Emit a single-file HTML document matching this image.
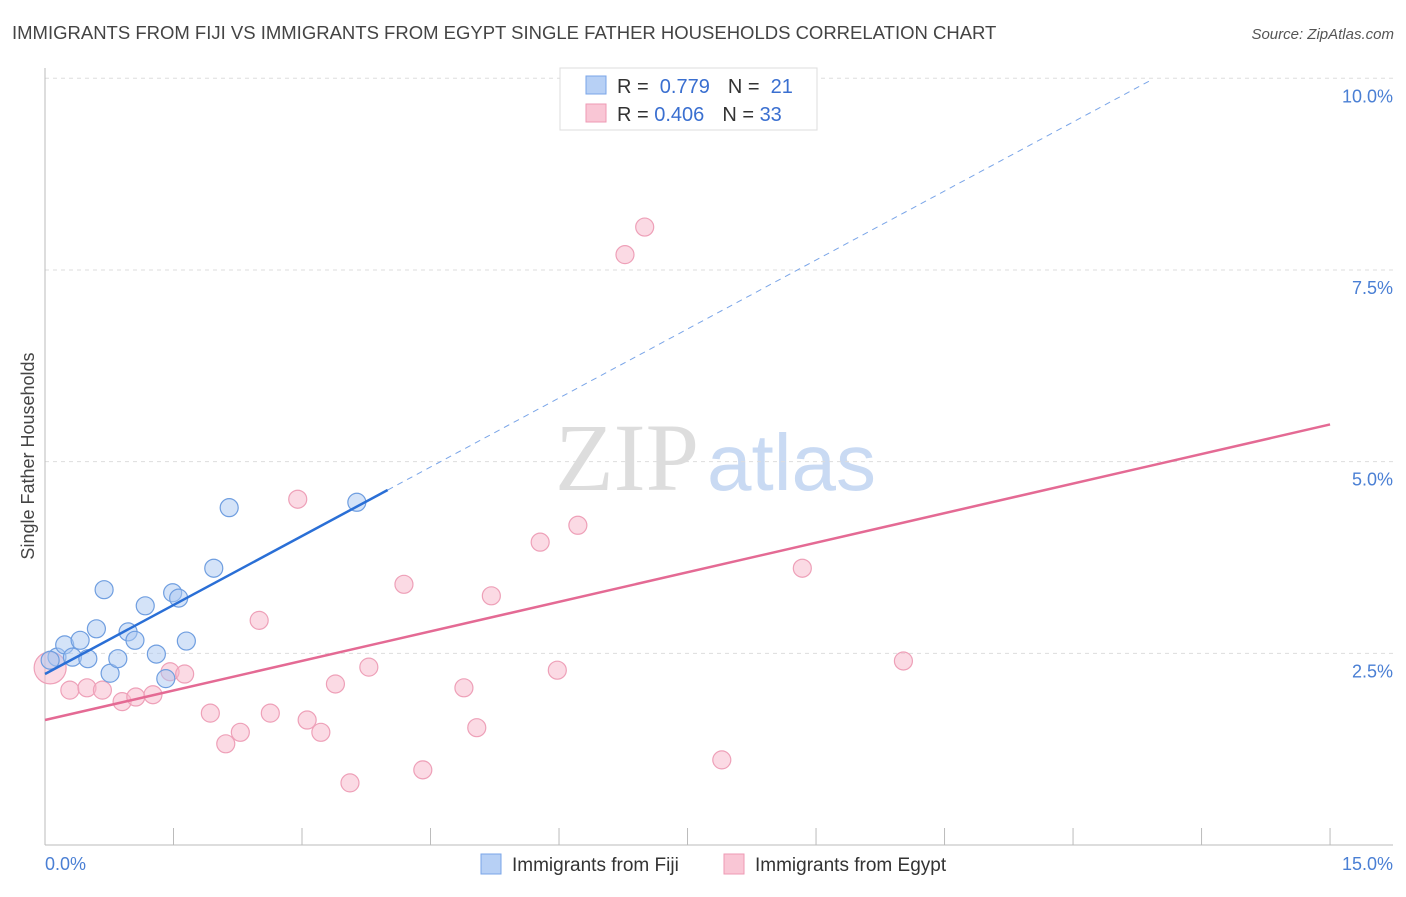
<!DOCTYPE html>
<html><head><meta charset="utf-8"><style>
body{margin:0;background:#fff;font-family:"Liberation Sans",sans-serif;}
</style></head><body>
<svg id="chart" width="1406" height="892" xmlns="http://www.w3.org/2000/svg" style="font-family:'Liberation Sans',sans-serif">
<text x="12" y="39" font-size="18.5" fill="#444">IMMIGRANTS FROM FIJI VS IMMIGRANTS FROM EGYPT SINGLE FATHER HOUSEHOLDS CORRELATION CHART</text>
<text x="1394" y="39" font-size="15" fill="#555" text-anchor="end" font-style="italic">Source: ZipAtlas.com</text>
<text x="555" y="490" font-size="96" fill="#ddd" font-family="Liberation Serif,serif">ZIP<tspan dx="8" fill="#c9daf3" font-family="Liberation Sans,sans-serif" font-size="80">atlas</tspan></text>
<g id="grid"></g><g id="marks"></g>
<text transform="translate(34,456) rotate(-90)" font-size="18" fill="#444" text-anchor="middle">Single Father Households</text>
<g>
<rect x="560" y="68" width="257" height="62" fill="#fff" stroke="#ddd"/>
<rect x="586" y="76" width="20" height="18" fill="#b7d0f5" stroke="#7aa5e8"/>
<rect x="586" y="104" width="20" height="18" fill="#f9c6d5" stroke="#ee9ab4"/>
<text x="617" y="93" font-size="20" fill="#333">R = <tspan fill="#3a6fd0">&#160;0.779</tspan><tspan dx="18">N = </tspan><tspan fill="#3a6fd0">&#160;21</tspan></text>
<text x="617" y="121" font-size="20" fill="#333">R = <tspan fill="#3a6fd0">0.406</tspan><tspan dx="18">N = </tspan><tspan fill="#3a6fd0">33</tspan></text>
</g>
<g>
<rect x="481" y="854" width="20" height="20" fill="#b7d0f5" stroke="#7aa5e8"/>
<text x="512" y="871" font-size="19" fill="#333">Immigrants from Fiji</text>
<rect x="724" y="854" width="20" height="20" fill="#f9c6d5" stroke="#ee9ab4"/>
<text x="755" y="871" font-size="19" fill="#333">Immigrants from Egypt</text>
</g>
</svg>
<script>
const yTicks=[2.5,5.0,7.5,10.0];
const yTickLabels=["2.5%","5.0%","7.5%","10.0%"];
const xTickLabels=["0.0%","15.0%"];
const fijiX=[0.14,0.23,0.32,0.41,0.50,0.60,0.69,0.76,0.85,0.97,1.05,1.17,1.30,1.41,1.49,1.56,1.65,1.97,2.15,3.64,0.06];
const fijiY=[2.45,2.61,2.45,2.67,2.43,2.82,3.33,2.24,2.43,2.78,2.67,3.12,2.49,2.17,3.29,3.22,2.66,3.61,4.40,4.47,2.41];
const egyptX=[0.06,0.29,0.49,0.67,0.90,1.06,1.26,1.46,1.63,1.93,2.11,2.28,2.63,2.50,2.95,3.06,3.22,3.39,3.56,3.78,4.19,4.41,4.89,5.04,5.21,5.78,5.98,6.22,6.77,7.00,7.90,8.84,10.02];
const egyptY=[2.31,2.02,2.05,2.02,1.87,1.93,1.96,2.26,2.23,1.72,1.32,1.47,1.72,2.93,4.51,1.63,1.47,2.10,0.81,2.32,3.40,0.98,2.05,1.53,3.25,3.95,2.28,4.17,7.70,8.06,1.11,3.61,2.40];
const fijiLine=[2.23,0.6];
const egyptLine=[1.63,0.257];
const X=v=>45+v*85.67, Y=v=>845-v*76.67;
const NS="http://www.w3.org/2000/svg";
function mk(p,t,a){const e=document.createElementNS(NS,t);for(const k in a)e.setAttribute(k,a[k]);p.appendChild(e);return e;}
const g=document.getElementById('grid'), m=document.getElementById('marks');
yTicks.forEach((t,i)=>{
 const l=mk(g,'line',{x1:45,x2:1393,y1:Y(t),y2:Y(t),stroke:'#ddd','stroke-dasharray':'4,4'});
 
 
 const tx=mk(g,'text',{x:1393,y:Y(t)+24,'font-size':18,fill:'#4a7fd4','text-anchor':'end'});tx.textContent=yTickLabels[i];
 
 
});
mk(g,'line',{x1:45,x2:45,y1:68,y2:845,stroke:'#bbb'});
mk(g,'line',{x1:45,x2:1393,y1:845,y2:845,stroke:'#bbb'});
for(let i=0;i<=10;i++){const x=X(i*1.5);const tk=mk(g,'line',{x1:x,x2:x,y1:828,y2:845,stroke:'#bbb'});
 
 }
[[0,'start',45],[1,'end',1393]].forEach(([i,a,x])=>{const t=mk(g,'text',{x:x,y:870,'font-size':18,fill:'#4a7fd4','text-anchor':a});t.textContent=xTickLabels[i];
 
 });
egyptX.forEach((v,i)=>{const c=mk(m,'circle',{cx:X(v),cy:Y(egyptY[i]),r:i==0?16:9,fill:'rgba(247,182,202,0.5)',stroke:'#eea0b8','stroke-width':1.2});
 
 });
fijiX.forEach((v,i)=>{const c=mk(m,'circle',{cx:X(v),cy:Y(fijiY[i]),r:9,fill:'rgba(170,200,242,0.5)',stroke:'#6f9ee0','stroke-width':1.2});
 
 });
const fl=mk(m,'line',{x1:X(0),y1:Y(fijiLine[0]),x2:X(4),y2:Y(fijiLine[0]+4*fijiLine[1]),stroke:'#2a6fd6','stroke-width':2.5});


const xe=(9.98-fijiLine[0])/fijiLine[1];
const fd=mk(m,'line',{x1:X(4),y1:Y(fijiLine[0]+4*fijiLine[1]),x2:X(xe),y2:Y(9.98),stroke:'#7aa5e8','stroke-width':1,'stroke-dasharray':'6,5'});


const el=mk(m,'line',{x1:X(0),y1:Y(egyptLine[0]),x2:X(15),y2:Y(egyptLine[0]+15*egyptLine[1]),stroke:'#e46a94','stroke-width':2.5});


</script>
</body></html>
